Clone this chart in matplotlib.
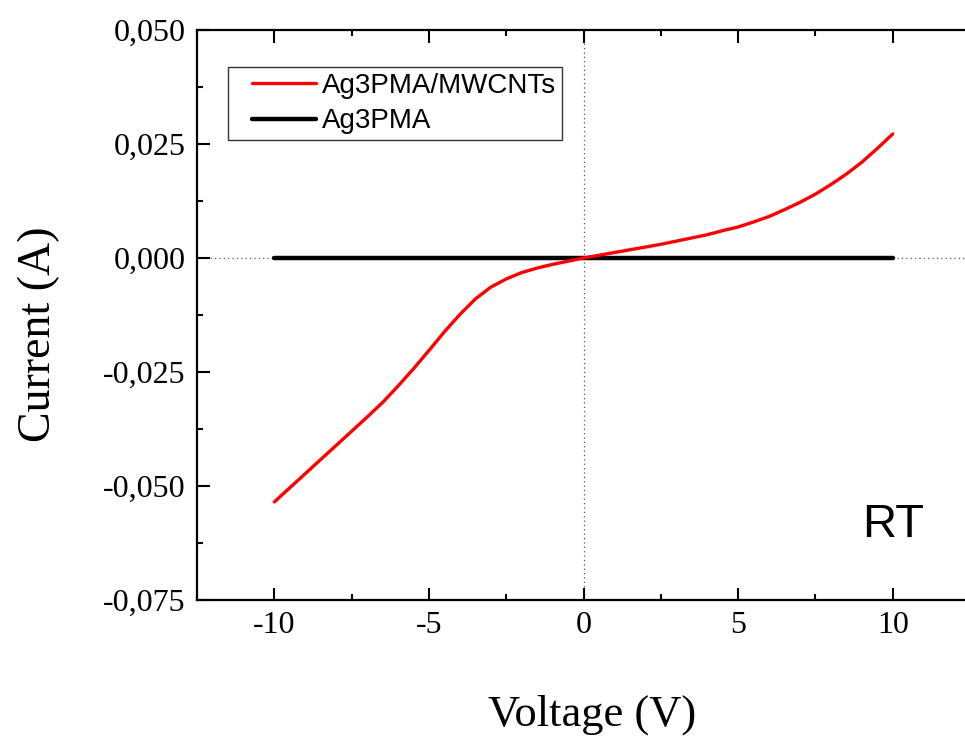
import matplotlib
matplotlib.use("Agg")
import matplotlib.pyplot as plt
from matplotlib.lines import Line2D
from matplotlib.legend_handler import HandlerLine2D
from matplotlib.ticker import MultipleLocator, FuncFormatter

# Data
voltage_cnt = [-10, -9.5, -9, -8.5, -8, -7.5, -7, -6.5, -6, -5.5, -5, -4.5, -4,
               -3.5, -3, -2.5, -2, -1.5, -1, -0.5, 0, 0.5, 1, 1.5, 2, 2.5, 3,
               3.5, 4, 4.5, 5, 5.5, 6, 6.5, 7, 7.5, 8, 8.5, 9, 9.5, 10]
current_cnt = [-0.0535, -0.0504, -0.0473, -0.0442, -0.0411, -0.0380, -0.0349,
               -0.0317, -0.0281, -0.0243, -0.0203, -0.0162, -0.0124, -0.0090,
               -0.0064, -0.0046, -0.0032, -0.0022, -0.0014, -0.0007, 0.0,
               0.0006, 0.0012, 0.0018, 0.0024, 0.0030, 0.0037, 0.0044, 0.0051,
               0.0060, 0.0068, 0.0079, 0.0091, 0.0106, 0.0122, 0.0140, 0.0161,
               0.0184, 0.0210, 0.0240, 0.0272]
voltage_pma = [-10, -5, 0, 5, 10]
current_pma = [0.0, 0.0, 0.0, 0.0, 0.0]

x_ticks = [-10, -5, 0, 5, 10]
y_ticks = [-0.075, -0.050, -0.025, 0.000, 0.025, 0.050]

serif = ["Liberation Serif", "DejaVu Serif"]
sans = ["Liberation Sans", "DejaVu Sans"]

fig = plt.figure(figsize=(9.65, 7.36), dpi=100)
ax = fig.add_axes([197 / 965, 1 - 600 / 736, (970 - 197) / 965, 570 / 736])

# zero reference lines
ax.axvline(0, color="#555555", lw=0.9, ls=(0, (1, 2.5)), zorder=1)
ax.axhline(0, color="#555555", lw=0.9, ls=(0, (1, 2.5)), zorder=1)

ax.plot(voltage_cnt, current_cnt, color="#ff0000", lw=2.4,
        solid_capstyle="round", solid_joinstyle="round",
        label="Ag3PMA/MWCNTs", zorder=3)
ax.plot(voltage_pma, current_pma, color="black", lw=3.2,
        solid_capstyle="round", label="Ag3PMA", zorder=2)

ax.set_xlim(-12.5, 12.5)
ax.set_ylim(-0.075, 0.050)
ax.set_xticks(x_ticks)
ax.set_yticks(y_ticks)
ax.xaxis.set_minor_locator(MultipleLocator(2.5))
ax.yaxis.set_minor_locator(MultipleLocator(0.0125))
ax.yaxis.set_major_formatter(FuncFormatter(lambda v, p: f"{v:.3f}".replace(".", ",")))
ax.xaxis.set_major_formatter(FuncFormatter(lambda v, p: f"{v:.0f}"))

ax.tick_params(which="both", direction="in", top=True, right=False, width=1.5)
ax.tick_params(which="major", length=9, pad=8, labelsize=23)
ax.tick_params(which="minor", length=4.5)
for lab in ax.get_xticklabels() + ax.get_yticklabels():
    lab.set_family(serif)

for side in ["left", "bottom", "top"]:
    ax.spines[side].set_linewidth(1.6)
ax.spines["right"].set_visible(False)

ax.set_xlabel("Voltage (V)", family=serif, fontsize=32)
ax.xaxis.set_label_coords((592 - 197) / 773, (600 - 726) / 570)
ax.xaxis.label.set_va("baseline")
ax.set_ylabel("Current (A)", family=serif, fontsize=33)
ax.yaxis.set_label_coords((39 - 197) / 773, (600 - 334) / 570)
ax.yaxis.label.set_va("center")

leg = ax.legend(loc="upper left", bbox_to_anchor=((228 - 197) / 773, (600 - 67) / 570),
                prop={"family": sans, "size": 20}, frameon=True, fancybox=False,
                edgecolor="black", borderpad=0.22, labelspacing=0.33,
                handlelength=2.95, handletextpad=0.22, borderaxespad=0,
                handler_map={Line2D: HandlerLine2D(xpad=0.66)})
leg.get_frame().set_linewidth(1.0)

ax.text(10.0, -0.0585, "RT", family=sans, fontsize=34, ha="center", va="center")

fig.savefig("out.png", dpi=100)
